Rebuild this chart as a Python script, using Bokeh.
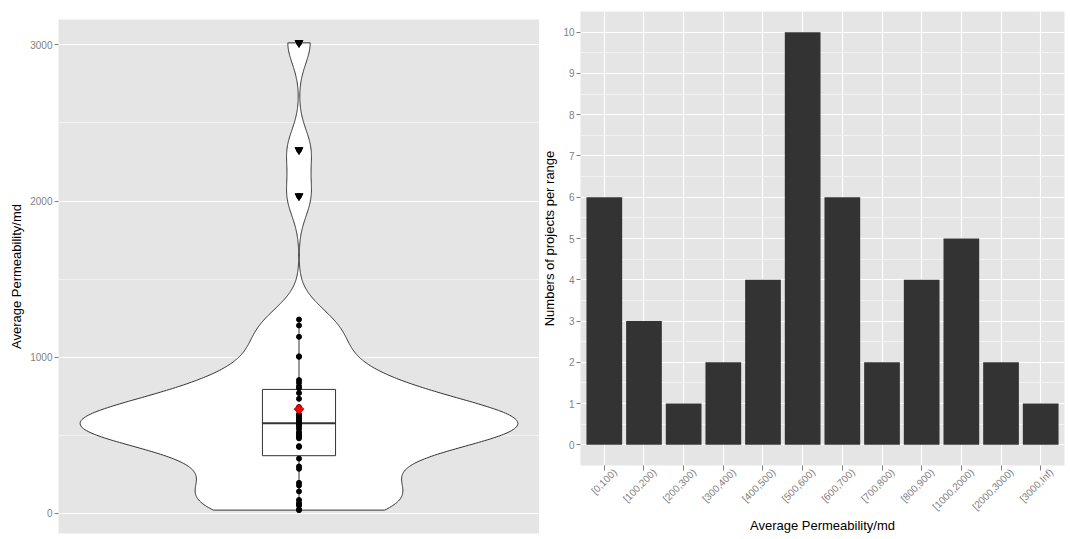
import numpy as np
from bokeh.plotting import figure
from bokeh.models import Range1d, SingleIntervalTicker, LinearAxis, FixedTicker
from bokeh.embed import file_html
from bokeh.resources import INLINE

# ---------------- data ----------------
values = [20, 25, 50, 55, 65, 85,
          140, 178, 195,
          285,
          300, 350,
          425, 430, 480, 490,
          500, 510, 520, 540, 555, 565, 572, 580, 590, 595,
          605, 612, 625, 635, 660, 680,
          733, 770,
          801, 814, 836, 853,
          1002, 1005, 1130, 1203, 1241,
          2032, 2327,
          3013]

bins = ["[0,100)", "[100,200)", "[200,300)", "[300,400)", "[400,500)",
        "[500,600)", "[600,700)", "[700,800)", "[800,900)", "[1000,2000)",
        "[2000,3000)", "[3000,Inf)"]
counts = [6, 3, 1, 2, 4, 10, 6, 2, 4, 5, 2, 1]

y_title = "Average Permeability/md"
y2_title = "Numbers of projects per range"
x2_title = "Average Permeability/md"

FONT = "Liberation Sans"
GRAY = "#7F7F7F"
PANEL = "#E5E5E5"
DARK = "#333333"


def style_axis(ax):
    ax.axis_line_color = None
    ax.major_tick_line_color = GRAY
    ax.major_tick_out = 4
    ax.major_tick_in = 0
    ax.minor_tick_line_color = None
    ax.major_label_text_color = GRAY
    ax.major_label_text_font = FONT
    ax.major_label_text_font_size = "10px"
    ax.major_label_standoff = 2
    ax.axis_label_text_font = FONT
    ax.axis_label_text_font_size = "13px"
    ax.axis_label_text_font_style = "normal"
    ax.axis_label_text_color = "black"


# ---------------- left: violin + box ----------------
v = np.array(values, dtype=float)
n = len(v)
lo, hi = v.min(), v.max()
pad = 0.05 * (hi - lo)

p1 = figure(width=539, height=539, output_backend="svg", toolbar_location=None,
            x_range=Range1d(0.5, 1.5), y_range=Range1d(lo - pad, hi + pad),
            min_border_left=58, min_border_right=0, min_border_top=19, min_border_bottom=6)
p1.background_fill_color = PANEL
p1.border_fill_color = "white"
p1.outline_line_color = None
p1.xaxis.visible = False
p1.xgrid.visible = False
p1.yaxis.ticker = SingleIntervalTicker(interval=1000, num_minor_ticks=2)
p1.ygrid.grid_line_color = "white"
p1.ygrid.grid_line_width = 1.2
p1.ygrid.minor_grid_line_color = "#F2F2F2"
p1.ygrid.minor_grid_line_width = 1
p1.yaxis.axis_label = y_title
style_axis(p1.yaxis[0])
p1.yaxis.axis_label_standoff = 3

# KDE (gaussian, bw.nrd0), trimmed to data range
sd = v.std(ddof=1)
q1, med, q3 = np.percentile(v, [25, 50, 75])
iqr = q3 - q1
bw = 0.9 * min(sd, iqr / 1.34) * n ** -0.2
ys = np.linspace(lo, hi, 512)
dens = np.exp(-0.5 * ((ys[:, None] - v[None, :]) / bw) ** 2).sum(1) / (n * bw * np.sqrt(2 * np.pi))
half = 0.455
w = dens / dens.max() * half
p1.patch(np.concatenate([1 - w, (1 + w)[::-1]]), np.concatenate([ys, ys[::-1]]),
         fill_color="white", line_color=DARK, line_width=1)

# boxplot
upper = v[v <= q3 + 1.5 * iqr].max()
lower = v[v >= q1 - 1.5 * iqr].min()
outl = v[(v > q3 + 1.5 * iqr) | (v < q1 - 1.5 * iqr)]
bh = 0.076
p1.segment(x0=[1, 1], y0=[q3, q1], x1=[1, 1], y1=[upper, lower], line_color=DARK, line_width=1)
p1.quad(left=[1 - bh], right=[1 + bh], bottom=[q1], top=[q3],
        fill_color="white", line_color=DARK, line_width=1)
p1.segment(x0=[1 - bh], y0=[med], x1=[1 + bh], y1=[med], line_color=DARK, line_width=2)

# points
p1.scatter(x=[1] * n, y=values, size=5, color="black")
p1.scatter(x=[1] * len(outl), y=outl, marker="inverted_triangle", size=8, color="black")
p1.scatter(x=[1], y=[v.mean()], marker="square", angle=np.pi / 4, size=7,
           fill_color="#FF0000", line_color="#B00000", line_width=0.8)

# ---------------- right: histogram bars ----------------
pos = list(range(len(bins)))          # category index of each bin
nb = len(bins)

p2 = figure(width=531, height=539, output_backend="svg", toolbar_location=None,
            x_range=Range1d(-0.6, nb - 0.4), y_range=Range1d(-0.5, 10.5),
            min_border_left=35, min_border_right=6, min_border_top=11, min_border_bottom=74)
p2.background_fill_color = PANEL
p2.border_fill_color = "white"
p2.outline_line_color = None
p2.yaxis.ticker = SingleIntervalTicker(interval=1, num_minor_ticks=2)
p2.ygrid.grid_line_color = "white"
p2.ygrid.grid_line_width = 1.2
p2.ygrid.minor_grid_line_color = "#F2F2F2"
p2.xgrid.ticker = FixedTicker(ticks=pos)
p2.xgrid.grid_line_color = "white"
p2.xgrid.grid_line_width = 1.2
style_axis(p2.yaxis[0])
p2.yaxis.axis_label = y2_title
p2.yaxis.axis_label_standoff = 3

# primary axis: tick marks only at the category centres
xa = p2.xaxis[0]
style_axis(xa)
xa.ticker = FixedTicker(ticks=pos)
xa.major_tick_out = 5
xa.major_label_overrides = {i: "" for i in pos}
xa.major_label_text_font_size = "1px"
xa.major_label_standoff = 0

# second axis carrying the rotated labels, offset to the right like ggplot's hjust=1 labels
shift = 0.27
p2.extra_x_ranges = {"lab": Range1d(-0.6 - shift, nb - 0.4 - shift)}
la = LinearAxis(x_range_name="lab", ticker=FixedTicker(ticks=pos),
                major_label_overrides={i: b for i, b in zip(pos, bins)})
style_axis(la)
la.major_tick_out = 0
la.major_tick_line_color = None
la.major_label_standoff = 0
la.major_label_orientation = np.pi / 4
la.axis_label = x2_title
la.axis_label_standoff = -1
p2.add_layout(la, "below")

p2.vbar(x=pos, top=counts, width=0.9, fill_color=DARK, line_color=None)

# two independent roots laid side by side (no shared frame alignment)
template = """
{% block postamble %}
<style>
  html, body { margin: 0; padding: 0; }
  body { display: flex !important; flex-direction: row; align-items: flex-start; }
</style>
{% endblock %}
"""

open("out.html", "w").write(file_html([p1, p2], INLINE, template=template))
